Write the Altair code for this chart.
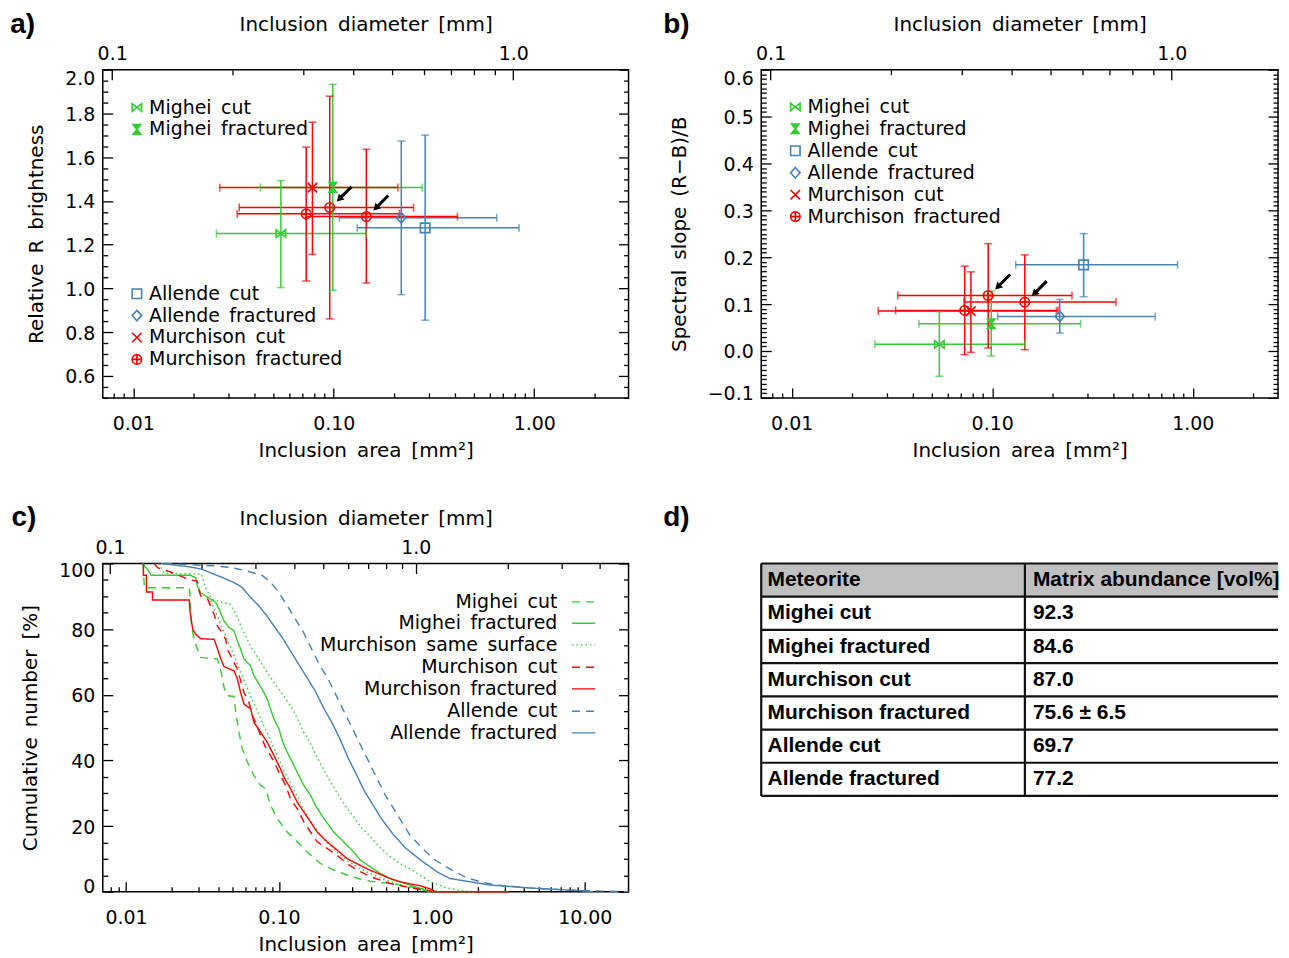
import math
import altair as alt
import pandas as pd

FONT = "DejaVu Sans"
BOLD = "Liberation Sans"
GREEN = "#33cc33"
RED = "#ff0000"
BLUE = "#4682b4"
SP = "\u2002"

W = 527    # plot width, left column
WR = 518   # plot width, right column (the reference is cut at the right edge)
H = 329    # plot height

# ---------------- panels a) and b): mean inclusion properties ----------------
names = ["Mighei cut", "Mighei fractured", "Allende cut", "Allende fractured",
         "Murchison cut", "Murchison fractured", "Murchison fractured", "Murchison fractured"]
area = [0.0545, 0.0989, 0.2857, 0.2172, 0.0783, 0.0729, 0.0955, 0.1454]
area_lo = [0.0260, 0.0431, 0.1310, 0.1065, 0.0270, 0.0330, 0.0338, 0.0723]
area_hi = [0.1450, 0.2760, 0.8400, 0.6500, 0.2090, 0.2130, 0.2500, 0.4140]
bright = [1.251, 1.462, 1.277, 1.323, 1.461, 1.341, 1.370, 1.329]
bright_lo = [1.004, 0.992, 0.855, 0.972, 1.156, 1.034, 0.861, 1.025]
bright_hi = [1.493, 1.933, 1.701, 1.674, 1.760, 1.646, 1.879, 1.636]
slope = [0.0142, 0.0582, 0.1837, 0.0738, 0.0851, 0.0865, 0.1184, 0.1043]
slope_lo = [-0.0539, -0.0106, 0.1156, 0.0383, -0.0028, -0.0078, 0.0064, 0.0028]
slope_hi = [0.0837, 0.1277, 0.2504, 0.1100, 0.1688, 0.1810, 0.2290, 0.2050]
highlighted = [False, False, False, False, False, False, True, True]

series_order = ["Mighei cut", "Mighei fractured", "Allende cut", "Allende fractured",
                "Murchison cut", "Murchison fractured"]
series_colors = [GREEN, GREEN, BLUE, BLUE, RED, RED]

BOWTIE = "M-1,-0.8L1,0.8L1,-0.8L-1,0.8Z"
HOURGLASS = "M-0.8,-1L0.8,-1L-0.8,1L0.8,1Z"
SQUARE = "M-1,-1L1,-1L1,1L-1,1Z"
DIAMOND = "M0,-1.1L1,0L0,1.1L-1,0Z"
XMARK = "M-1,-1L1,1M-1,1L1,-1"
CPLUS = "M-1,0A1,1,0,1,1,1,0A1,1,0,1,1,-1,0M-1,0L1,0M0,-1L0,1"
ARROW = "M0.7,-0.6L1.478,-0.812L1.301,-0.989L2.306,-1.994L2.094,-2.206L1.089,-1.201L0.912,-1.378Z"
series_paths = [BOWTIE, HOURGLASS, SQUARE, DIAMOND, XMARK, CPLUS]

# ---------------- panel c): cumulative size distributions ----------------
mc_area = [0.0129, 0.0132, 0.0259, 0.0262, 0.0268, 0.0279, 0.0293, 0.0308, 0.0396, 0.0417, 0.0438,
           0.0460, 0.0509, 0.0522, 0.0548, 0.0576, 0.0622, 0.0687, 0.0759, 0.0818, 0.0882, 0.0975,
           0.1133, 0.1317, 0.1530, 0.1870, 0.2284, 0.2790, 0.3410, 0.3960, 0.5350, 0.7220, 0.9750]
mc_pct = [100, 92.6, 92.6, 90.6, 81.0, 76.9, 73.9, 71.4, 70.9, 67.3, 62.2, 59.7, 59.5, 54.7, 48.6,
          43.5, 39.5, 35.4, 32.4, 31.4, 26.3, 22.3, 18.2, 15.2, 12.1, 8.6, 6.6, 5.1, 3.8, 3.2, 2.5,
          1.5, 0.0]
mf_area = [0.0130, 0.0132, 0.0138, 0.0146, 0.0265, 0.0286, 0.0293, 0.0308, 0.0358, 0.0387, 0.0406,
           0.0438, 0.0472, 0.0509, 0.0535, 0.0562, 0.0591, 0.0653, 0.0687, 0.0740, 0.0798, 0.0839,
           0.0882, 0.0928, 0.1001, 0.1051, 0.1133, 0.1222, 0.1317, 0.1455, 0.1609, 0.1733, 0.1966,
           0.2284, 0.2654, 0.3084, 0.3410, 0.3960, 0.4600, 0.5350, 0.6220, 0.7220, 0.8390, 0.9750,
           1.0200]
mf_pct = [100, 99.2, 98.2, 96.4, 96.4, 95.6, 93.1, 91.1, 89.1, 88.1, 86.0, 82.5, 80.5, 79.5, 76.4,
          73.9, 70.9, 68.8, 65.8, 63.3, 60.7, 58.7, 55.7, 52.6, 49.6, 46.1, 42.5, 39.5, 36.4, 32.4,
          29.4, 26.3, 22.3, 18.2, 15.2, 12.1, 9.6, 7.6, 5.6, 4.0, 3.0, 2.0, 1.0, 0.3, 0.0]
ms_area = [0.0163, 0.0179, 0.0311, 0.0331, 0.0362, 0.0423, 0.0478, 0.0524, 0.0575, 0.0650, 0.0736,
           0.0832, 0.0941, 0.1064, 0.1203, 0.1320, 0.1443, 0.1585, 0.1741, 0.1911, 0.2099, 0.2367,
           0.2669, 0.3010, 0.3393, 0.3826, 0.4487, 0.5263, 0.6310, 0.7565, 0.9660, 1.2400, 1.5900,
           1.9000]
ms_pct = [100, 97.0, 96.8, 92.7, 89.2, 88.2, 87.7, 84.6, 80.1, 75.0, 71.0, 67.0, 63.4, 59.9, 56.4,
          52.8, 48.8, 45.8, 41.7, 38.2, 34.6, 30.6, 26.6, 23.5, 20.0, 17.5, 13.9, 10.9, 8.4, 6.4,
          3.2, 1.2, 0.3, 0.0]
ms2_area = [0.0358, 0.0396, 0.0438, 0.0484, 0.0535, 0.0591, 0.0653, 0.0722, 0.0798, 0.0882, 0.0975,
            0.1078, 0.1191, 0.1317, 0.1455, 0.1609, 0.1778, 0.2066, 0.2401, 0.2790, 0.3410, 0.3960,
            0.5350, 0.7220, 0.9750, 1.2000]
ms2_pct = [88.6, 84.0, 79.0, 74.5, 69.5, 64.5, 59.5, 55.0, 50.5, 46.0, 41.5, 37.0, 33.0, 29.0, 25.0,
           21.5, 18.5, 15.0, 12.0, 9.5, 7.0, 5.5, 3.0, 1.3, 0.4, 0.0]
muc_area = [0.0153, 0.0161, 0.0201, 0.0259, 0.0293, 0.0301, 0.0308, 0.0341, 0.0377, 0.0396, 0.0417,
            0.0449, 0.0460, 0.0496, 0.0535, 0.0562, 0.0591, 0.0637, 0.0670, 0.0722, 0.0759, 0.0818,
            0.0882, 0.0951, 0.1025, 0.1105, 0.1191, 0.1317, 0.1455, 0.1609, 0.1778, 0.2066, 0.2401,
            0.2790, 0.3243, 0.3963, 0.5350, 0.7222, 0.9750, 1.0000]
muc_pct = [100, 98.7, 97.2, 95.1, 94.6, 91.6, 90.1, 89.3, 84.5, 81.0, 79.5, 76.9, 73.9, 70.9, 67.8,
           64.3, 60.7, 57.7, 53.6, 50.6, 47.6, 44.0, 41.5, 38.5, 35.4, 32.4, 28.3, 25.3, 21.3, 18.2,
           15.2, 13.2, 11.1, 8.6, 6.6, 4.6, 2.5, 1.2, 0.2, 0.0]
muf_area = [0.0130, 0.0130, 0.0136, 0.0136, 0.0149, 0.0149, 0.0259, 0.0262, 0.0267, 0.0273, 0.0286,
            0.0308, 0.0377, 0.0396, 0.0417, 0.0438, 0.0509, 0.0535, 0.0562, 0.0591, 0.0653, 0.0687,
            0.0759, 0.0839, 0.0928, 0.1025, 0.1078, 0.1191, 0.1317, 0.1455, 0.1609, 0.1778, 0.2066,
            0.2401, 0.2790, 0.3410, 0.3963, 0.4604, 0.5350, 0.6216, 0.7222, 0.8392, 0.9750, 1.0500,
            3.2000]
muf_pct = [100, 96.4, 96.4, 91.3, 91.3, 88.9, 88.9, 85.5, 83.0, 80.0, 78.4, 77.1, 76.9, 74.1, 70.9,
           68.6, 67.3, 64.8, 60.7, 57.2, 55.7, 51.6, 48.6, 45.5, 41.5, 37.4, 34.9, 31.4, 27.3, 24.3,
           21.3, 18.2, 15.2, 12.7, 10.1, 8.0, 6.5, 5.3, 4.0, 3.0, 2.4, 1.8, 0.9, 0.0, 0.0]
ac_area = [0.0179, 0.0374, 0.0479, 0.0612, 0.0782, 0.0885, 0.1000, 0.1131, 0.1279, 0.1445, 0.1634,
           0.1848, 0.2089, 0.2362, 0.2671, 0.3020, 0.3415, 0.3861, 0.4365, 0.4935, 0.5580, 0.6310,
           0.7135, 0.8580, 1.0310, 1.3180, 1.6860, 2.1540, 2.9290, 4.5000, 7.3600, 10.630, 19.300]
ac_pct = [100, 99.3, 98.8, 97.8, 96.3, 94.2, 91.2, 87.2, 83.1, 79.1, 74.0, 69.0, 65.0, 59.9, 54.8,
          49.8, 44.7, 39.7, 34.6, 29.6, 25.6, 21.5, 17.5, 13.4, 9.9, 6.9, 4.3, 2.8, 1.8, 1.1, 0.6,
          0.3, 0.0]
af_area = [0.0169, 0.0259, 0.0311, 0.0423, 0.0509, 0.0575, 0.0651, 0.0736, 0.0832, 0.0940, 0.1063,
           0.1202, 0.1359, 0.1537, 0.1738, 0.1965, 0.2222, 0.2512, 0.2840, 0.3211, 0.3631, 0.4105,
           0.4642, 0.5580, 0.6710, 0.8580, 1.0960, 1.3180, 1.7920, 2.4360, 3.3110, 4.5000, 6.5100,
           9.4000, 11.310]
af_pct = [100, 99.0, 98.3, 95.8, 94.2, 92.7, 89.7, 87.2, 84.1, 80.6, 77.1, 73.0, 69.0, 65.0, 60.9,
          55.9, 51.5, 46.5, 40.7, 35.7, 30.6, 26.6, 22.5, 17.5, 13.4, 9.4, 5.9, 4.0, 3.0, 2.0, 1.6,
          1.1, 0.7, 0.3, 0.0]

curve_order = ["Mighei cut", "Mighei fractured", "Murchison same surface", "Murchison cut",
               "Murchison fractured", "Allende cut", "Allende fractured"]
curve_colors = [GREEN, GREEN, RED, RED, RED, BLUE, BLUE]
curve_dashes = [[8, 6], [1, 0], [1.5, 3], [8, 6], [1, 0], [8, 6], [1, 0]]

# ---------------- panel d): table ----------------
header = ["Meteorite", "Matrix abundance [vol%]"]
meteorites = ["Mighei cut", "Mighei fractured", "Murchison cut", "Murchison fractured",
              "Allende cut", "Allende fractured"]
matrix = ["92.3", "84.6", "87.0", "75.6 ± 6.5", "69.7", "77.2"]


# ======================================================================
def d2a(d):
    return math.pi * d * d / 4.0


def minor_log(lo, hi):
    out = []
    for e in range(-3, 3):
        for k in range(2, 10):
            v = k * 10.0 ** e
            if lo < v < hi:
                out.append(v)
    return out


def panel_label(text, x, y, xs, ys):
    return alt.Chart(pd.DataFrame({"t": [text], "x": [x], "y": [y]})).mark_text(
        align="left", baseline="alphabetic", font=BOLD, fontSize=28, fontWeight="bold",
        color="black").encode(x=alt.X("x:Q", scale=xs, axis=None),
                              y=alt.Y("y:Q", scale=ys, axis=None), text="t:N")


def frame_layers(xs, ys, width, xmaj, xmin, dmaj, dmin, ylab, ymaj, ymin, yfmt, ytitle, yoff):
    anchor = alt.Chart(pd.DataFrame({"ax": [0.1], "ay": [ymaj[1]]})).mark_point(opacity=0, size=1)
    tk = dict(labels=False, domain=False, grid=False, title=None, tickColor="black", tickWidth=1.3)

    def X(**kw):
        return alt.X("ax:Q", scale=xs, axis=alt.Axis(**kw))

    def Y(**kw):
        return alt.Y("ay:Q", scale=ys, axis=alt.Axis(**kw))

    return [
        anchor.encode(
            x=X(orient="bottom", values=xmaj, format=".2f", ticks=False, tickSize=0, domain=False,
                grid=False, labelPadding=16.5, labelFlush=False,
                title=f"Inclusion{SP}area{SP}[mm²]", titlePadding=7),
            y=Y(orient="left", values=ylab, format=yfmt, ticks=False, tickSize=0, domain=False,
                grid=False, labelPadding=8, labelFlush=False, labelBaseline="middle",
                labelOffset=yoff, title=ytitle, titlePadding=18)),
        anchor.encode(
            x=X(orient="top", offset=-H, values=xmaj, tickSize=10, **tk),
            y=Y(orient="right", offset=-width, values=ymaj, tickSize=10, **tk)),
        anchor.encode(
            x=X(orient="top", offset=-H, values=xmin, tickSize=5, **tk),
            y=Y(orient="right", offset=-width, values=ymin, tickSize=5, **tk)),
        anchor.encode(
            x=X(orient="top", values=dmaj, labelExpr="format(sqrt(datum.value*4/PI), '.1f')",
                ticks=False, tickSize=0, domain=False, grid=False, labelPadding=6, labelFlush=False,
                title=f"Inclusion{SP}diameter{SP}[mm]", titlePadding=10),
            y=Y(orient="left", offset=-width, values=ymaj, tickSize=10, **tk)),
        anchor.encode(
            x=X(orient="bottom", offset=-H, values=dmaj, tickSize=10, **tk),
            y=Y(orient="left", offset=-width, values=ymin, tickSize=5, **tk)),
        anchor.encode(
            x=X(orient="bottom", offset=-H, values=dmin, tickSize=5, **tk),
            y=alt.Y("ay:Q", scale=ys, axis=None)),
    ]


pts = pd.DataFrame({"name": names, "area": area, "area_lo": area_lo, "area_hi": area_hi,
                    "rb": bright, "rb_lo": bright_lo, "rb_hi": bright_hi,
                    "sl": slope, "sl_lo": slope_lo, "sl_hi": slope_hi, "hl": highlighted})


def scatter_panel(yf, width, xdom, ydom, ylab, ymaj, ymin, ytitle, yoff, leg_names, leg_y,
                  label, label_xy):
    xs = alt.Scale(type="log", domain=xdom, nice=False)
    ys = alt.Scale(domain=ydom, nice=False, zero=False)
    col = alt.Color("name:N", scale=alt.Scale(domain=series_order, range=series_colors), legend=None)
    shp = alt.Shape("name:N", scale=alt.Scale(domain=series_order, range=series_paths), legend=None)

    def X(f):
        return alt.X(f"{f}:Q", scale=xs, axis=None)

    def Y(f):
        return alt.Y(f"{f}:Q", scale=ys, axis=None)

    layers = frame_layers(xs, ys, width, [0.01, 0.1, 1.0], minor_log(xdom[0], xdom[1]),
                          [d2a(0.1), d2a(1.0)], [d2a(d / 10) for d in range(2, 10)],
                          ylab, ymaj, ymin, ".1f", ytitle, yoff)
    base = alt.Chart(pts)
    lo, hi = yf + "_lo", yf + "_hi"
    layers += [
        base.mark_rule(strokeWidth=1.5).encode(x=X("area_lo"), x2="area_hi", y=Y(yf), color=col),
        base.mark_rule(strokeWidth=1.5).encode(x=X("area"), y=Y(lo), y2=hi, color=col),
        base.mark_tick(orient="vertical", size=8, thickness=1.5).encode(x=X("area_lo"), y=Y(yf), color=col),
        base.mark_tick(orient="vertical", size=8, thickness=1.5).encode(x=X("area_hi"), y=Y(yf), color=col),
        base.mark_tick(orient="horizontal", size=8, thickness=1.5).encode(x=X("area"), y=Y(lo), color=col),
        base.mark_tick(orient="horizontal", size=8, thickness=1.5).encode(x=X("area"), y=Y(hi), color=col),
        base.mark_point(filled=False, size=90, strokeWidth=1.6, opacity=1).encode(
            x=X("area"), y=Y(yf), color=col, shape=shp),
        base.transform_filter("datum.name == 'Mighei fractured'").mark_point(
            filled=True, size=90, opacity=1).encode(x=X("area"), y=Y(yf), color=col, shape=shp),
        base.transform_filter("datum.hl").mark_point(
            shape=ARROW, filled=True, size=400, color="black", opacity=1).encode(x=X("area"), y=Y(yf)),
    ]
    leg = pd.DataFrame({"name": leg_names, "ly": leg_y,
                        "label": [n.replace(" ", SP) for n in leg_names]})
    leg["sx"] = 0.01043
    leg["tx"] = 0.0120
    lb = alt.Chart(leg)
    layers += [
        lb.mark_point(filled=False, size=90, strokeWidth=1.6, opacity=1).encode(
            x=X("sx"), y=Y("ly"), color=col, shape=shp),
        lb.transform_filter("datum.name == 'Mighei fractured'").mark_point(
            filled=True, size=90, opacity=1).encode(x=X("sx"), y=Y("ly"), color=col, shape=shp),
        lb.mark_text(align="left", baseline="middle", font=FONT, fontSize=19, color="black").encode(
            x=X("tx"), y=Y("ly"), text="label:N"),
        panel_label(label, label_xy[0], label_xy[1], xs, ys),
    ]
    return alt.layer(*layers).resolve_axis(x="independent", y="independent").properties(
        width=width, height=H)


ya_lab = [round(0.6 + 0.2 * k, 1) for k in range(8)]
ya_min = [round(0.5 + 0.05 * k, 2) for k in range(31) if k % 4 != 2]
off_a = {"condition": {"test": "datum.value > 1.99", "value": 9}, "value": 1}
panel_a = scatter_panel(
    "rb", W, [0.00705, 2.953], [0.5, 2.0], ya_lab, ya_lab, ya_min,
    f"Relative{SP}R{SP}brightness", off_a,
    ["Mighei cut", "Mighei fractured", "Allende cut", "Allende fractured", "Murchison cut",
     "Murchison fractured"],
    [1.827, 1.727, 0.976, 0.876, 0.776, 0.676],
    "a)", (0.002437, 2.1664))

yb_lab = [round(-0.1 + 0.1 * k, 1) for k in range(8)]
yb_min = [round(-0.1 + 0.01 * k, 2) for k in range(71) if k % 10 != 0]
off_b = {"condition": [{"test": "datum.value > 0.59", "value": 9},
                       {"test": "datum.value < -0.09", "value": -4.5}], "value": 1}
panel_b = scatter_panel(
    "sl", WR, [0.00705, 2.662], [-0.1, 0.6], yb_lab, yb_lab, yb_min,
    f"Spectral{SP}slope{SP}(R−B)/B", off_b,
    series_order,
    [0.5206, 0.4738, 0.4270, 0.3802, 0.3334, 0.2866],
    "b)", (0.002289, 0.6777))

# ---------------- panel c ----------------
curves = [("Mighei cut", mc_area, mc_pct), ("Mighei fractured", mf_area, mf_pct),
          ("Murchison same surface", ms_area, ms_pct), ("Murchison same surface", ms2_area, ms2_pct),
          ("Murchison cut", muc_area, muc_pct), ("Murchison fractured", muf_area, muf_pct),
          ("Allende cut", ac_area, ac_pct), ("Allende fractured", af_area, af_pct)]
rows = []
for cid, (nm, xa, ya) in enumerate(curves):
    for i, (a, p) in enumerate(zip(xa, ya)):
        rows.append({"curve": cid, "name": nm, "area": a, "pct": p, "i": i})
cdf = pd.DataFrame(rows)

XDOM_C = [0.00705, 19.33]
xs_c = alt.Scale(type="log", domain=XDOM_C, nice=False)
ys_c = alt.Scale(domain=[0, 100], nice=False, zero=False)
ccol = alt.Color("name:N", scale=alt.Scale(domain=curve_order, range=curve_colors), legend=None)
cdash = alt.StrokeDash("name:N", scale=alt.Scale(domain=curve_order, range=curve_dashes), legend=None)
yc_lab = [0, 20, 40, 60, 80, 100]
yc_min = [v for v in range(0, 101, 5) if v % 20 != 0]
off_c = {"condition": [{"test": "datum.value > 99", "value": 7.5},
                       {"test": "datum.value < 1", "value": -5.5}], "value": 1}
c_layers = frame_layers(xs_c, ys_c, W, [0.01, 0.1, 1.0, 10.0], minor_log(XDOM_C[0], XDOM_C[1]),
                        [d2a(0.1), d2a(1.0)],
                        [d2a(d / 10) for d in range(2, 10)] + [d2a(2.0), d2a(3.0), d2a(4.0)],
                        yc_lab, yc_lab, yc_min, "d", f"Cumulative{SP}number{SP}[%]", off_c)
c_layers.append(alt.Chart(cdf).mark_line(strokeWidth=1.4).encode(
    x=alt.X("area:Q", scale=xs_c, axis=None), y=alt.Y("pct:Q", scale=ys_c, axis=None),
    color=ccol, strokeDash=cdash, detail="curve:N", order="i:Q"))
cleg = pd.DataFrame({"name": curve_order,
                     "ly": [88.3, 81.8, 75.2, 68.4, 61.8, 55.0, 48.4],
                     "label": [n.replace(" ", SP) for n in curve_order]})
cleg["tx"] = 6.62
cleg["x0"] = 8.25
cleg["x1"] = 11.7
c_layers += [
    alt.Chart(cleg).mark_text(align="right", baseline="middle", font=FONT, fontSize=19,
                              color="black").encode(
        x=alt.X("tx:Q", scale=xs_c, axis=None), y=alt.Y("ly:Q", scale=ys_c, axis=None), text="label:N"),
    alt.Chart(cleg).mark_rule(strokeWidth=1.4).encode(
        x=alt.X("x0:Q", scale=xs_c, axis=None), x2="x1", y=alt.Y("ly:Q", scale=ys_c, axis=None),
        color=ccol, strokeDash=cdash),
    panel_label("c)", 0.001784, 111.34, xs_c, ys_c),
]
panel_c = alt.layer(*c_layers).resolve_axis(x="independent", y="independent").properties(
    width=W, height=H)

# ---------------- panel d: table ----------------
nrow = len(meteorites) + 1
tab = pd.DataFrame({"r": list(range(nrow)), "c1": [header[0]] + meteorites,
                    "c2": [header[1]] + matrix})
txs = alt.Scale(domain=[0, 1], nice=False, zero=False)
tys = alt.Scale(domain=[0, nrow], nice=False, zero=False, reverse=True)
TX = lambda f: alt.X(f"{f}:Q", scale=txs, axis=None)
TY = lambda f: alt.Y(f"{f}:Q", scale=tys, axis=None)
hdr = alt.Chart(pd.DataFrame({"x0": [0], "x1": [1], "y0": [0], "y1": [1]})).mark_rect(
    color="#c0c0c0").encode(x=TX("x0"), x2="x1", y=TY("y0"), y2="y1")
hl = alt.Chart(pd.DataFrame({"r": list(range(nrow + 1))})).transform_calculate(
    x0="0", x1="1").mark_rule(strokeWidth=2.2, color="#111111").encode(x=TX("x0"), x2="x1", y=TY("r"))
vl = alt.Chart(pd.DataFrame({"xv": [0.0, 0.5102]})).transform_calculate(
    y0="0", y1=str(nrow)).mark_rule(strokeWidth=2.2, color="#111111").encode(x=TX("xv"), y=TY("y0"), y2="y1")
t1 = alt.Chart(tab).transform_calculate(tx="0.0122", ym="datum.r + 0.5").mark_text(
    align="left", baseline="middle", font=BOLD, fontSize=21, fontWeight="bold", color="black").encode(
    x=TX("tx"), y=TY("ym"), text="c1:N")
t2 = alt.Chart(tab).transform_calculate(tx="0.5257", ym="datum.r + 0.5").mark_text(
    align="left", baseline="middle", font=BOLD, fontSize=21, fontWeight="bold", color="black").encode(
    x=TX("tx"), y=TY("ym"), text="c2:N")
dlab = panel_label("d)", -0.1896, -1.1205, txs, tys)
panel_d = alt.layer(hdr, hl, vl, t1, t2, dlab).properties(
    width=WR, height=233, view=alt.ViewBackground(stroke="transparent"))

chart = alt.concat(panel_a, panel_b, panel_c, panel_d, columns=2,
                   spacing={"row": 166, "column": 133}, bounds="flush",
                   padding={"left": 1, "top": 0.7, "right": 0, "bottom": 0}).configure_view(
    stroke="black", strokeWidth=1.5).configure_axis(
    labelFont=FONT, labelFontSize=19, labelColor="black", titleFont=FONT, titleFontSize=20,
    titleFontWeight="normal", titleColor="black")

chart.save("out.html", embed_options={"renderer": "svg", "actions": False})
